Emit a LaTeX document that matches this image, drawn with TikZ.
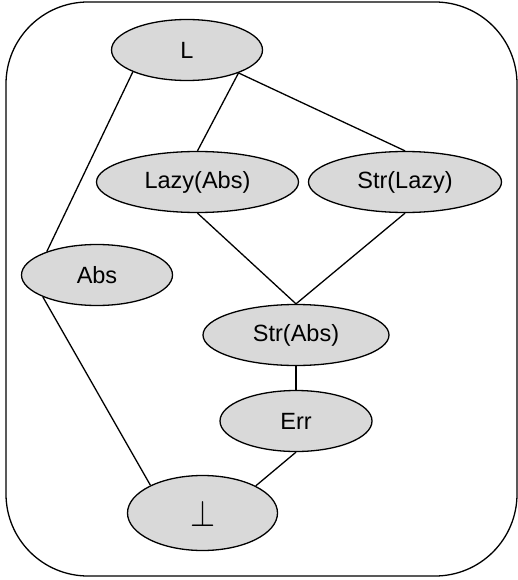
\documentclass[tikz,border=0pt]{standalone}
\usepackage{graphicx}
\usepackage{fontspec}
\setmainfont{Liberation Sans}
\usetikzlibrary{shapes.geometric}
\begin{document}
\begin{tikzpicture}[x=1pt,y=-1pt,
  state/.style={ellipse,draw,fill=black!15,line width=1.3pt,inner sep=0pt,
    font=\fontsize{23.5}{28}\selectfont},
  edge/.style={line width=1.3pt}]
\useasboundingbox (0,0) rectangle (518,580);
\draw[line width=1.3pt,rounded corners=82pt] (6,2) rectangle (517,576);
\node[state,minimum width=151pt,minimum height=61pt] (L) at (187,50) {L};
\node[state,minimum width=202pt,minimum height=61pt] (Lazy) at (197.5,182) {Lazy(Abs)};
\node[state,minimum width=193pt,minimum height=61pt] (StrLazy) at (405,182) {Str(Lazy)};
\node[state,minimum width=151pt,minimum height=61pt] (Abs) at (97,275) {Abs};
\node[state,minimum width=186pt,minimum height=61pt] (StrAbs) at (296,335) {Str(Abs)};
\node[state,minimum width=152pt,minimum height=61pt] (Err) at (296,421) {Err};
\node[state,minimum width=150pt,minimum height=75pt] (Bot) at (202.5,513) {\resizebox{25pt}{26pt}{$\perp$}};
\draw[edge] (L.202) -- (Abs.155);
\draw[edge] (L.336) -- (Lazy.90);
\draw[edge] (L.336) -- (StrLazy.90);
\draw[edge] (Lazy.270) -- (StrAbs.90);
\draw[edge] (StrLazy.270) -- (StrAbs.90);
\draw[edge] (StrAbs.270) -- (Err.90);
\draw[edge] (Err.270) -- (Bot.27);
\draw[edge] (Abs.202) -- (Bot.152);
\end{tikzpicture}
\end{document}
